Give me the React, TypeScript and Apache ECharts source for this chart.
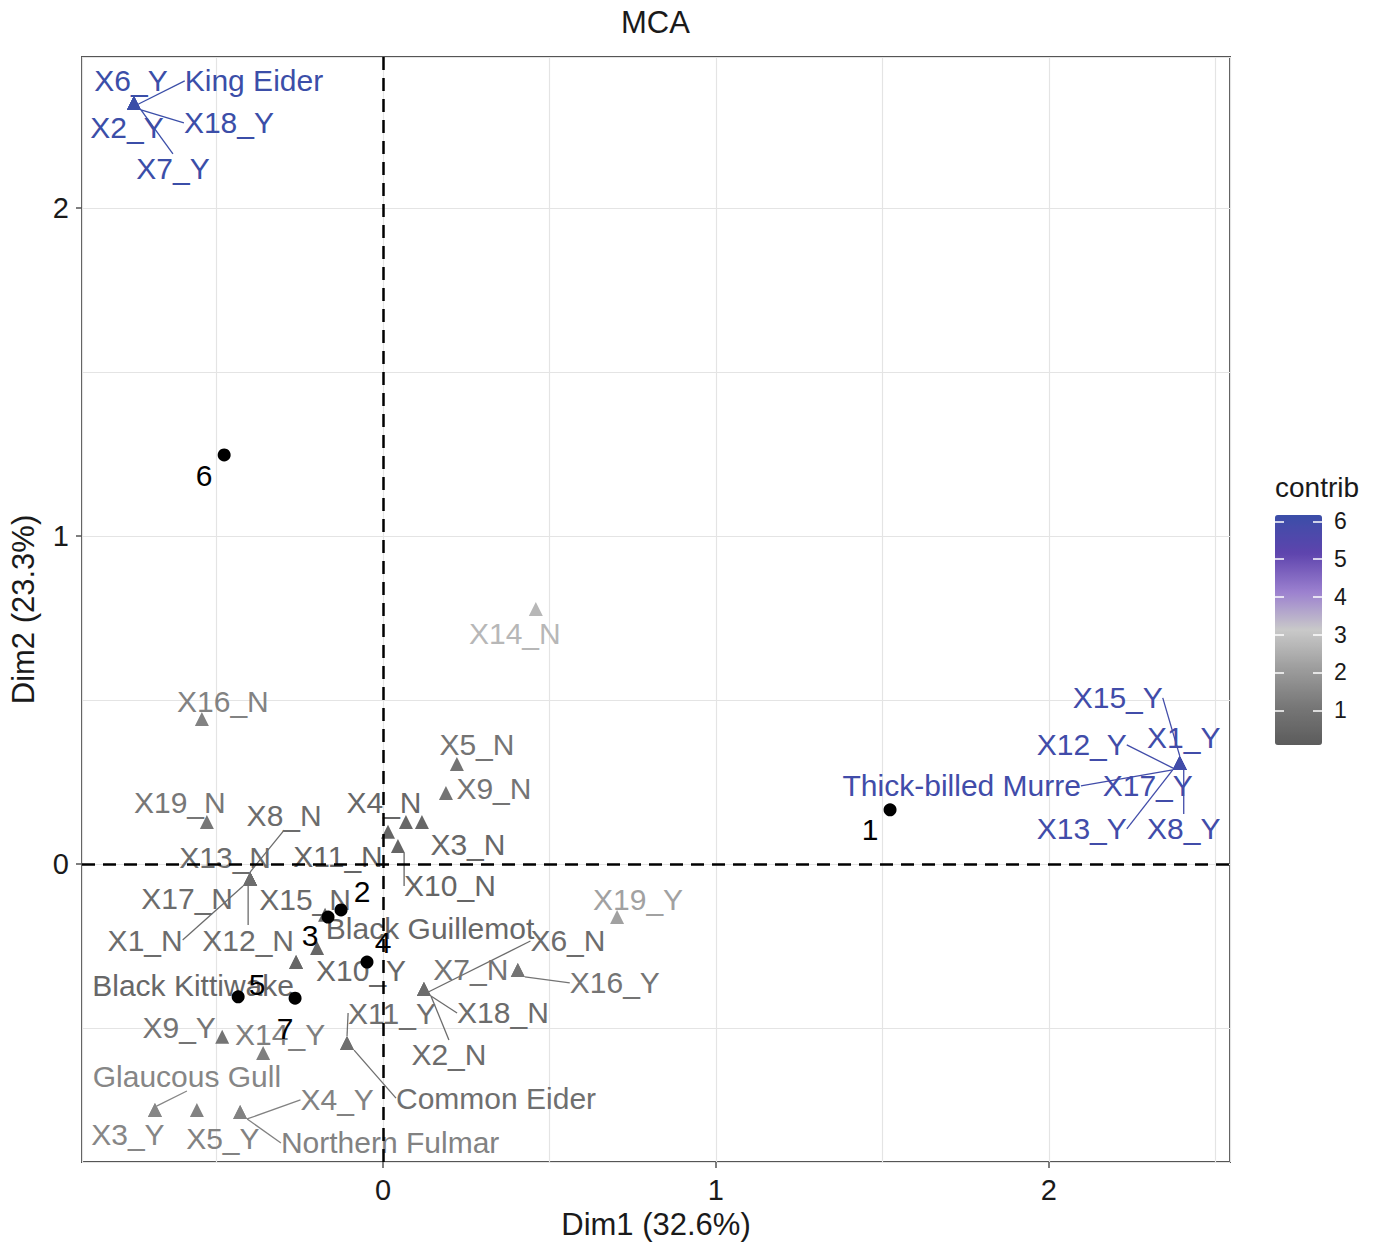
import React, { useEffect, useRef } from 'react';
import * as echarts from 'echarts';

// ---------- data ----------
const indLabels = ['1', '2', '3', '4', '5', '6', '7'];
const indDim1 = [1.523, -0.126, -0.165, -0.048, -0.435, -0.477, -0.264];
const indDim2 = [0.165, -0.14, -0.162, -0.299, -0.405, 1.247, -0.409];

const varLabels = [
  'X6_Y', 'King Eider', 'X2_Y', 'X18_Y', 'X7_Y',
  'X15_Y', 'X12_Y', 'X1_Y', 'Thick-billed Murre', 'X17_Y', 'X13_Y', 'X8_Y',
  'X14_N', 'X16_N', 'X5_N', 'X9_N', 'X19_N',
  'X4_N', 'X3_N', 'X11_N', 'X10_N',
  'X13_N', 'X8_N', 'X17_N', 'X1_N', 'X12_N',
  'X15_N', 'Black Guillemot', 'X10_Y', 'Black Kittiwake',
  'X19_Y', 'X16_Y', 'X7_N', 'X6_N', 'X18_N', 'X2_N',
  'X11_Y', 'Common Eider', 'X9_Y', 'X14_Y',
  'Glaucous Gull', 'X3_Y', 'X5_Y', 'X4_Y', 'Northern Fulmar',
];
const varDim1 = [
  -0.748, -0.748, -0.748, -0.748, -0.748,
  2.393, 2.393, 2.393, 2.393, 2.393, 2.393, 2.393,
  0.459, -0.544, 0.222, 0.189, -0.529,
  0.069, 0.117, 0.015, 0.045,
  -0.399, -0.399, -0.399, -0.399, -0.399,
  -0.174, -0.198, -0.261, -0.261,
  0.703, 0.405, 0.405, 0.123, 0.123, 0.123,
  -0.108, -0.108, -0.483, -0.36,
  -0.685, -0.685, -0.559, -0.429, -0.429,
];
const varDim2 = [
  2.32, 2.32, 2.32, 2.32, 2.32,
  0.308, 0.308, 0.308, 0.308, 0.308, 0.308, 0.308,
  0.777, 0.442, 0.305, 0.216, 0.128,
  0.128, 0.128, 0.098, 0.055,
  -0.046, -0.046, -0.046, -0.046, -0.046,
  -0.155, -0.256, -0.299, -0.299,
  -0.162, -0.323, -0.323, -0.381, -0.381, -0.381,
  -0.546, -0.546, -0.527, -0.576,
  -0.75, -0.75, -0.75, -0.756, -0.756,
];
const varContrib = [
  6.17, 6.17, 6.17, 6.17, 6.17,
  6.0, 6.0, 6.0, 6.0, 6.0, 6.0, 6.0,
  2.7, 1.4, 1.0, 1.0, 1.1,
  0.5, 0.5, 0.4, 0.4,
  0.7, 0.7, 0.7, 0.7, 0.7,
  0.6, 0.5, 0.5, 0.5,
  2.2, 1.0, 1.0, 0.7, 0.7, 0.7,
  0.8, 0.8, 1.0, 1.3,
  1.5, 1.5, 1.4, 1.4, 1.4,
];

const xTicks = [0, 1, 2];
const yTicks = [0, 1, 2];
const legendTicks = [1, 2, 3, 4, 5, 6];

// ---------- label placement (pixel offsets from the point; styling only) ----------
const indLabelOffsets = [[-20, 20], [21, -18], [-18, 18], [16, -20], [19, -12], [-20, 21], [-10, 30]];
const varLabelOffsets = [
  [-3, -22], [120, -22], [-7, 25], [95, 20], [39, 66],
  [-62, -65], [-98, -18], [4, -25], [-218, 23], [-32, 23], [-98, 66], [4, 66],
  [-21, 24], [21, -17], [20, -19], [48, -5], [-27, -19],
  [-22, -19], [46, 23], [-50, 25], [52, 40],
  [-25, -22], [34, -64], [-63, 19], [-105, 61], [-2, 61],
  [-20, -15], [113, -19], [65, 8], [-103, 23],
  [21, -18], [97, 13], [-47, 0], [144, -48], [79, 24], [25, 66],
  [45, -30], [149, 55], [-43, -9], [17, -18],
  [32, -34], [-27, 24], [26, 28], [97, -12], [150, 31],
];
const varLeader = [
  false, true, false, true, true,
  true, true, false, true, false, true, true,
  false, false, false, false, false,
  false, false, false, true,
  false, true, false, true, true,
  false, false, false, false,
  false, true, false, true, true, true,
  true, true, false, false,
  true, false, false, true, true,
];

const FONT = '"Liberation Sans", Arial, Helvetica, sans-serif';
const intFmt = (v: number) => (Math.abs(v - Math.round(v)) < 1e-9 ? String(Math.round(v)) : '');

const X_MIN = -0.904;
const X_MAX = 2.544;
const Y_MIN = -0.9085;
const Y_MAX = 2.46;
const C_MIN = 0.08;
const C_MAX = 6.17;

export default function App() {
  const ref = useRef<HTMLDivElement>(null);

  useEffect(() => {
    document.body.style.margin = '0';
    if (!ref.current) return;
    const chart = echarts.init(ref.current, undefined, { renderer: 'svg' });

    const varData = varLabels.map((name, i) => ({
      name,
      value: [varDim1[i], varDim2[i], varContrib[i]],
      labelLine: { show: varLeader[i] },
    }));
    const indData = indLabels.map((name, i) => ({ name, value: [indDim1[i], indDim2[i]] }));

    const tickOnly = (gridIndex: number, min: number, max: number, position: string, values: number[], color: string, inside: boolean, len: number) => ({
      type: 'value', gridIndex, min, max, position, offset: 0,
      axisLine: { show: false, onZero: false },
      axisTick: { show: true, inside, customValues: values, length: len, lineStyle: { color, width: 1.5 } },
      axisLabel: { show: false },
      splitLine: { show: false },
      z: 10,
    });

    const option: any = {
      animation: false,
      backgroundColor: '#ffffff',
      textStyle: { fontFamily: FONT },
      title: {
        text: 'MCA',
        left: 621,
        top: 7,
        padding: 0,
        textStyle: { fontSize: 31, fontWeight: 'normal', color: '#1a1a1a', fontFamily: FONT },
      },
      grid: [
        {
          left: 82, top: 57, width: 1148, height: 1105, show: true,
          borderColor: '#555555', borderWidth: 2, backgroundColor: 'transparent',
          outerBoundsMode: 'none', containLabel: false,
        },
        { left: 1275, top: 515, width: 47, height: 230, show: false, outerBoundsMode: 'none', containLabel: false },
      ],
      xAxis: [
        {
          type: 'value', gridIndex: 0, min: X_MIN, max: X_MAX, minInterval: 0.5, maxInterval: 0.5,
          position: 'bottom',
          axisLine: { show: false, onZero: false },
          axisTick: { show: false },
          axisLabel: { formatter: intFmt, fontSize: 29, color: '#1a1a1a', margin: 13, fontFamily: FONT, showMinLabel: false, showMaxLabel: false },
          splitLine: { show: true, lineStyle: { color: '#e4e4e4', width: 1.2 } },
          name: 'Dim1 (32.6%)', nameLocation: 'middle', nameGap: 47,
          nameTextStyle: { fontSize: 31, color: '#1a1a1a', fontFamily: FONT },
        },
        { type: 'value', gridIndex: 1, min: 0, max: 1, show: false },
        tickOnly(0, X_MIN, X_MAX, 'bottom', xTicks, '#555', false, 6),
      ],
      yAxis: [
        {
          type: 'value', gridIndex: 0, min: Y_MIN, max: Y_MAX, minInterval: 0.5, maxInterval: 0.5,
          position: 'left',
          axisLine: { show: false, onZero: false },
          axisTick: { show: false },
          axisLabel: { formatter: intFmt, fontSize: 29, color: '#1a1a1a', margin: 13, fontFamily: FONT, showMinLabel: false, showMaxLabel: false },
          splitLine: { show: true, lineStyle: { color: '#e4e4e4', width: 1.2 } },
          name: 'Dim2 (23.3%)', nameLocation: 'middle', nameGap: 43, nameRotate: 90,
          nameTextStyle: { fontSize: 31, color: '#1a1a1a', fontFamily: FONT },
        },
        {
          type: 'value', gridIndex: 1, min: C_MIN, max: C_MAX, position: 'right', offset: 0,
          axisLine: { show: false, onZero: false },
          axisTick: { show: true, inside: true, customValues: legendTicks, length: 9, lineStyle: { color: '#ffffff', width: 1.5 } },
          axisLabel: { customValues: legendTicks, formatter: intFmt, fontSize: 23, color: '#1a1a1a', margin: 12, fontFamily: FONT },
          splitLine: { show: false },
          z: 10,
        },
        {
          ...tickOnly(1, C_MIN, C_MAX, 'left', legendTicks, '#ffffff', true, 9),
          name: 'contrib', nameLocation: 'end', nameGap: 14,
          nameTextStyle: { fontSize: 28, color: '#1a1a1a', align: 'left', verticalAlign: 'bottom', fontFamily: FONT },
        },
        tickOnly(0, Y_MIN, Y_MAX, 'left', yTicks, '#555', false, 6),
      ],
      visualMap: {
        type: 'continuous',
        min: C_MIN,
        max: C_MAX,
        dimension: 2,
        seriesIndex: 1,
        left: 1275,
        top: 515,
        itemWidth: 47,
        itemHeight: 230,
        padding: 0,
        z: 2,
        calculable: false,
        hoverLink: false,
        text: null,
        inRange: { color: ['#5c5c5c', '#777777', '#9d9d9d', '#c9c9c9', '#9b80cf', '#5e44ad', '#3b4ea8'] },
      },
      series: [
        {
          type: 'line',
          xAxisIndex: 0,
          yAxisIndex: 0,
          data: [],
          z: 1,
          silent: true,
          markLine: {
            silent: true,
            symbol: ['none', 'none'],
            label: { show: false },
            lineStyle: { color: '#000', type: [13, 8], width: 2.5, opacity: 1 },
            data: [{ xAxis: 0 }, { yAxis: 0 }],
          },
        },
        {
          type: 'scatter',
          xAxisIndex: 0,
          yAxisIndex: 0,
          symbol: 'triangle',
          symbolSize: 14,
          z: 3,
          itemStyle: { opacity: 1 },
          data: varData,
          label: {
            show: true,
            position: 'inside',
            formatter: '{b}',
            fontSize: 30,
            color: 'inherit',
            fontFamily: FONT,
          },
          labelLine: { show: false, lineStyle: { width: 1.3 } },
          labelLayout: (p: any) => {
            const o = varLabelOffsets[p.dataIndex];
            return { dx: o[0], dy: o[1] };
          },
        },
        {
          type: 'scatter',
          xAxisIndex: 0,
          yAxisIndex: 0,
          symbol: 'circle',
          symbolSize: 13,
          z: 4,
          itemStyle: { color: '#000', opacity: 1 },
          data: indData,
          label: { show: true, position: 'inside', formatter: '{b}', fontSize: 30, color: '#000', fontFamily: FONT },
          labelLayout: (p: any) => {
            const o = indLabelOffsets[p.dataIndex];
            return { dx: o[0], dy: o[1] };
          },
        },
      ],
    };

    chart.setOption(option);
    return () => chart.dispose();
  }, []);

  return <div ref={ref} style={{ width: 1374, height: 1243 }} />;
}
